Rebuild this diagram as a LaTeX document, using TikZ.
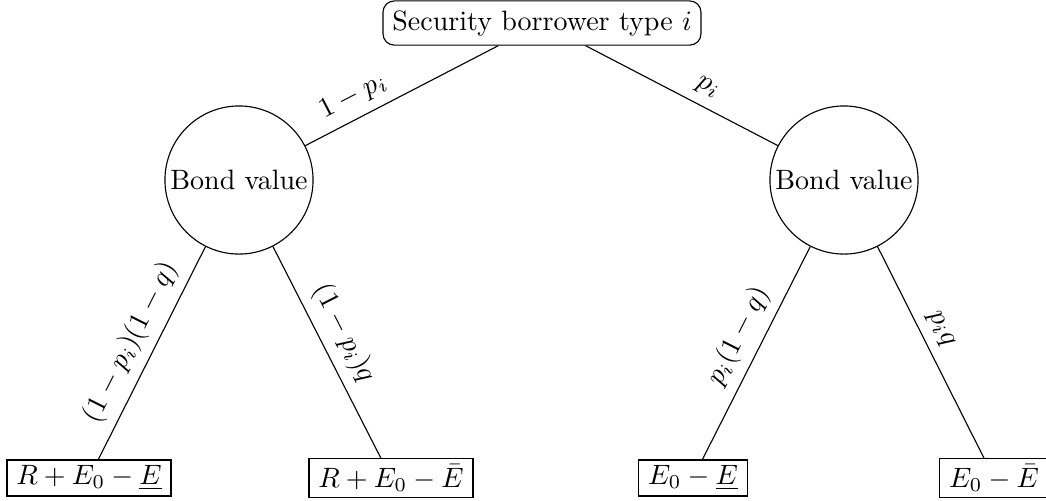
\documentclass[tikz,border=0pt]{standalone}
\begin{document}
\begin{tikzpicture}[x=0.35714pt,y=-0.35714pt,
  rootbox/.style={draw, rounded corners=4pt},
  chance/.style={draw, circle, minimum size=52.9pt, inner sep=0pt},
  leafbox/.style={draw, inner xsep=3.33pt, inner ysep=2pt},
  lbl/.style={above, sloped}]
\useasboundingbox (0,0) rectangle (1046,500);
\node[rootbox] (r) at (542,23) {Security borrower type $i$};
\node[chance] (a) at (239,180) {Bond value};
\node[chance] (b) at (844,180) {Bond value};
\node[leafbox] (l1) at (89,478) {$R+E_0-\underline{E}$};
\node[leafbox] (l2) at (391,478) {$R+E_0-\bar{E}$};
\node[leafbox] (l3) at (693,478) {$E_0-\underline{E}$};
\node[leafbox] (l4) at (994,478) {$E_0-\bar{E}$};
\draw (r) -- node[lbl, pos=0.7] {$1-p_i$} (a);
\draw (r) -- node[lbl, pos=0.59] {$p_i$} (b);
\draw (a) -- node[lbl, pos=0.5] {$(1-p_i)(1-q)$} (l1);
\draw (a) -- node[lbl, pos=0.46] {$(1-p_i)q$} (l2);
\draw (b) -- node[lbl, pos=0.47] {$p_i(1-q)$} (l3);
\draw (b) -- node[lbl, pos=0.43] {$p_iq$} (l4);
\end{tikzpicture}
\end{document}
